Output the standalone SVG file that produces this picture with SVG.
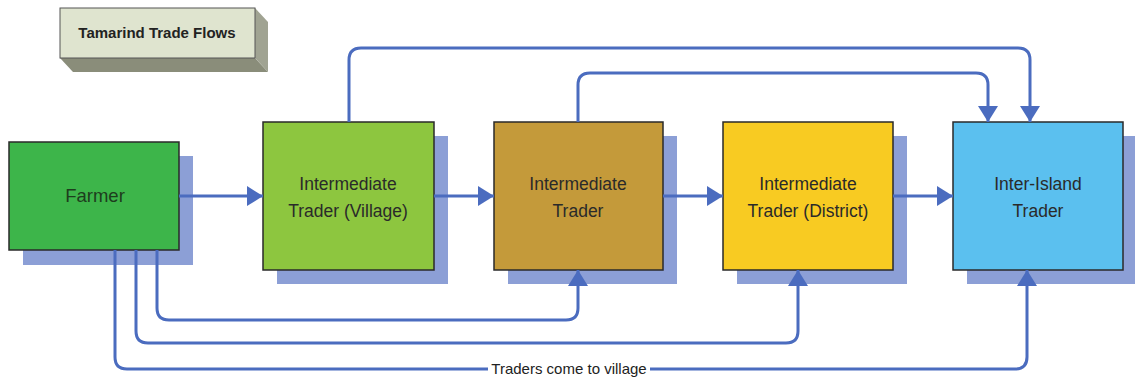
<svg xmlns="http://www.w3.org/2000/svg" width="1135" height="380" viewBox="0 0 1135 380">
<style>
.shadow{fill:#8c9fd6}
.box{stroke:#2a2a2a;stroke-width:1.5}
.lbl{font-family:"Liberation Sans",Arial,sans-serif;font-size:17.5px;fill:#2a2a2a;text-anchor:middle}
.con{fill:none;stroke:#4b6cbf;stroke-width:3}
</style>
<defs>
<marker id="ah" viewBox="0 0 16 20" refX="16" refY="10" markerWidth="16" markerHeight="20" markerUnits="userSpaceOnUse" orient="auto">
<path d="M0,0 L16,10 L0,20 Z" fill="#4b6cbf"/>
</marker>
</defs>
<rect width="1135" height="380" fill="#ffffff"/>
<g id="title">
<polygon points="60,58 255,58 268,72 73,72" fill="#8a8d7a"/>
<polygon points="255,8 268,22 268,72 255,58" fill="#a0a392"/>
<rect x="60" y="8" width="195" height="50" fill="#dfe4cf" stroke="#555" stroke-width="1"/>
<text x="157" y="38" font-family="Liberation Sans,Arial,sans-serif" font-size="15" font-weight="bold" fill="#222" text-anchor="middle">Tamarind Trade Flows</text>
</g>
<g id="farmer">
<rect class="shadow" x="23" y="156" width="170" height="109"/>
<rect class="box" x="9" y="142" width="170" height="108" fill="#3db54a"/>
<text class="lbl" x="95" y="202" style="font-size:18.5px;fill:#1d3d1d">Farmer</text>
</g>
<g id="village">
<rect class="shadow" x="277" y="136" width="171" height="148"/>
<rect class="box" x="263" y="122" width="171" height="148" fill="#8dc63f"/>
<text class="lbl" x="348" y="190">Intermediate</text>
<text class="lbl" x="348" y="217">Trader (Village)</text>
</g>
<g id="trader">
<rect class="shadow" x="508" y="136" width="169" height="148"/>
<rect class="box" x="494" y="122" width="169" height="148" fill="#c49a3a"/>
<text class="lbl" x="578" y="190">Intermediate</text>
<text class="lbl" x="578" y="217">Trader</text>
</g>
<g id="district">
<rect class="shadow" x="737" y="136" width="170" height="148"/>
<rect class="box" x="723" y="122" width="170" height="148" fill="#f8cb22"/>
<text class="lbl" x="808" y="190">Intermediate</text>
<text class="lbl" x="808" y="217">Trader (District)</text>
</g>
<g id="interisland">
<rect class="shadow" x="967" y="136" width="170" height="148"/>
<rect class="box" x="953" y="122" width="170" height="148" fill="#5bc0ef"/>
<text class="lbl" x="1038" y="190">Inter-Island</text>
<text class="lbl" x="1038" y="217">Trader</text>
</g>
<g id="connectors">
<path class="con" d="M179,196 H263" marker-end="url(#ah)"/>
<path class="con" d="M434,196 H494" marker-end="url(#ah)"/>
<path class="con" d="M663,196 H723" marker-end="url(#ah)"/>
<path class="con" d="M893,196 H953" marker-end="url(#ah)"/>
<path class="con" d="M349,122 V60 Q349,48 361,48 H1018 Q1030,48 1030,60 V122" marker-end="url(#ah)"/>
<path class="con" d="M578,122 V85 Q578,73 590,73 H976 Q988,73 988,85 V122" marker-end="url(#ah)"/>
<path class="con" d="M157,250 V308 Q157,320 169,320 H566 Q578,320 578,308 V270" marker-end="url(#ah)"/>
<path class="con" d="M136,250 V331 Q136,343 148,343 H786 Q798,343 798,331 V270" marker-end="url(#ah)"/>
<path class="con" d="M115,250 V357 Q115,369 127,369 H1015 Q1027,369 1027,357 V270" marker-end="url(#ah)"/>
<rect x="488" y="360" width="162" height="18" fill="#ffffff"/>
<text x="569" y="374" font-family="Liberation Sans,Arial,sans-serif" font-size="15" fill="#222" text-anchor="middle">Traders come to village</text>
</g>
</svg>
